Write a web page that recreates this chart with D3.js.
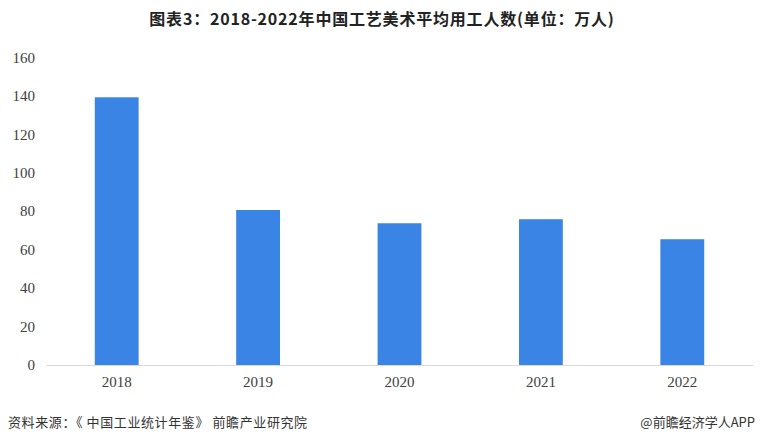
<!DOCTYPE html>
<html><head><meta charset="utf-8">
<script src="https://cdn.jsdelivr.net/npm/d3@7"></script>
<style>body{margin:0;background:#fff}svg{display:block}</style>
</head><body>
<script>
const title = "图表3：2018-2022年中国工艺美术平均用工人数(单位：万人)";
const source = "资料来源：《 中国工业统计年鉴》 前瞻产业研究院";
const credit = "@前瞻经济学人APP";
const categories = ["2018","2019","2020","2021","2022"];
const values = [139.2, 80.6, 73.7, 75.8, 65.4];
const yTicks = [0,20,40,60,80,100,120,140,160];

const W=760,H=444;
const svg=d3.select("body").append("svg").attr("width",W).attr("height",H);
const x=d3.scaleBand().domain(categories).range([46,753]).paddingInner(0.69).paddingOuter(0.345);
const y=d3.scaleLinear().domain([0,160]).range([365,57.3]);

svg.append("text").attr("x",382).attr("y",25).attr("text-anchor","middle")
  .attr("font-family","'Noto Sans CJK SC'").attr("font-weight","bold").attr("font-size",16)
  .attr("letter-spacing",0.8).attr("fill","#222").text(title);

svg.selectAll("rect.bar").data(values).enter().append("rect").attr("class","bar")
  .attr("x",(d,i)=>x(categories[i])).attr("width",x.bandwidth())
  .attr("y",d=>y(d)).attr("height",d=>y(0)-y(d)).attr("fill","#3a84e6");

const yAxis=svg.append("g").attr("transform","translate(35,0)")
  .call(d3.axisLeft(y).tickValues(yTicks).tickSize(0).tickPadding(0));
yAxis.select(".domain").remove();
yAxis.selectAll("text").attr("font-family","'Liberation Serif'").attr("font-size",15).attr("fill","#404040");

const xAxis=svg.append("g").attr("transform","translate(0,365)")
  .call(d3.axisBottom(x).tickSize(0).tickPadding(11));
xAxis.select(".domain").attr("stroke","#d9d9d9");
xAxis.selectAll("text").attr("font-family","'Liberation Serif'").attr("font-size",15).attr("fill","#404040");

svg.append("text").attr("x",8).attr("y",427).attr("font-family","'Noto Sans CJK SC'")
  .attr("font-size",13).attr("letter-spacing",0.6).attr("fill","#333").text(source);
svg.append("text").attr("x",755).attr("y",427).attr("text-anchor","end").attr("font-family","'Noto Sans CJK SC'")
  .attr("font-size",13).attr("fill","#333").text(credit);
</script>
</body></html>
